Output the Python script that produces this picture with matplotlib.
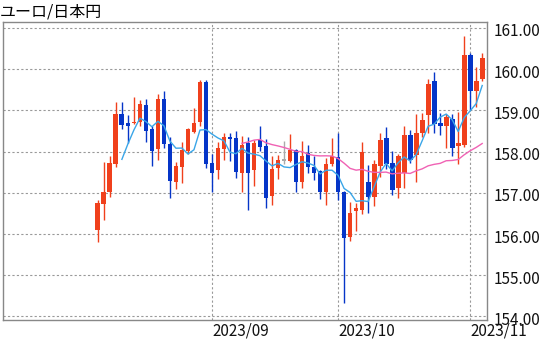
import numpy as np
import pandas as pd
import matplotlib
matplotlib.use("Agg")
import matplotlib.pyplot as plt
import matplotlib.transforms as mtransforms

plt.rcParams['font.family'] = ['Noto Sans CJK JP', 'DejaVu Sans']

# EUR/JPY daily candles, 2023-08-07 .. 2023-11-03
dates = pd.bdate_range("2023-08-07", periods=65)
opens = [156.10, 156.73, 157.01, 157.70, 158.91, 158.70, 158.68, 158.71, 159.13, 158.55,
         158.06, 159.27, 158.18, 157.25, 157.63, 158.02, 158.48, 158.71, 159.69, 157.73,
         157.55, 158.06, 158.36, 158.33, 157.49, 158.20, 157.55, 158.28, 158.14, 156.91,
         157.60, 157.78, 157.78, 158.04, 157.26, 157.96, 157.63, 157.52, 157.03, 157.70,
         157.86, 157.03, 155.92, 156.55, 156.58, 157.25, 156.89, 157.66, 158.32, 157.71,
         157.12, 157.48, 158.41, 157.92, 158.46, 158.88, 159.72, 158.68, 158.63, 158.78,
         158.14, 158.16, 160.34, 159.47, 159.77]
highs = [156.82, 157.74, 157.88, 159.19, 159.21, 158.88, 159.33, 159.25, 159.27, 158.62,
         159.39, 159.47, 158.34, 157.74, 158.24, 158.58, 159.05, 159.73, 159.73, 157.94,
         158.24, 158.46, 158.45, 158.50, 158.38, 158.36, 158.28, 158.63, 158.30, 157.90,
         157.92, 158.26, 158.42, 158.06, 158.26, 158.16, 157.90, 157.55, 157.84, 158.33,
         158.46, 157.05, 156.77, 156.74, 158.24, 157.68, 157.79, 158.46, 158.60, 158.02,
         157.95, 158.61, 158.53, 158.91, 158.93, 159.77, 159.92, 158.93, 158.91, 158.91,
         158.95, 160.81, 160.40, 160.04, 160.38]
lows = [155.81, 156.35, 156.90, 157.63, 158.55, 158.20, 158.67, 158.63, 158.24, 157.66,
        157.79, 158.08, 156.87, 157.09, 157.23, 157.95, 158.44, 158.63, 157.61, 157.03,
        157.33, 157.79, 157.76, 157.35, 157.01, 156.58, 157.17, 158.02, 156.63, 156.71,
        157.33, 157.70, 157.74, 157.03, 157.11, 157.47, 157.31, 156.86, 156.70, 157.66,
        156.82, 154.32, 155.82, 156.08, 156.48, 156.50, 156.69, 157.37, 157.58, 156.95,
        156.87, 157.12, 157.71, 157.27, 158.34, 158.45, 158.45, 158.40, 158.08, 157.88,
        157.70, 158.12, 159.01, 159.07, 159.72]
closes = [156.74, 157.03, 157.72, 158.91, 158.65, 158.61, 158.72, 159.15, 158.50, 158.02,
          159.27, 158.18, 157.29, 157.64, 158.04, 158.55, 158.69, 159.68, 157.70, 157.49,
          158.08, 158.34, 158.31, 157.51, 158.16, 157.49, 158.21, 158.12, 156.87, 157.57,
          157.79, 157.78, 158.04, 157.25, 157.90, 157.63, 157.49, 157.01, 157.70, 157.90,
          157.01, 155.90, 156.52, 156.63, 157.98, 156.90, 157.70, 158.28, 157.70, 157.07,
          157.88, 158.41, 157.79, 158.46, 158.76, 159.64, 158.67, 158.63, 158.84, 158.08,
          158.21, 160.34, 159.46, 159.72, 160.27]
y_ticks = [154, 155, 156, 157, 158, 159, 160, 161]

df = pd.DataFrame({"open": opens, "high": highs, "low": lows, "close": closes}, index=dates)
ma_short = df["close"].rolling(5).mean()
ma_long = df["close"].rolling(25).mean()

x = np.arange(len(df))
up_col, down_col, flat_col = "#f0401c", "#0535c8", "#aaaaaa"
colors = [up_col if c > o else down_col if c < o else flat_col
          for o, c in zip(df["open"], df["close"])]

fig = plt.figure(figsize=(5.6, 3.44), dpi=100)
ax = fig.add_axes([3 / 560, 1 - 320 / 344, 484 / 560, 298 / 344])

# wicks and bodies
ax.vlines(x, df["low"], df["high"], colors=colors, linewidth=1.0, zorder=2)
body_low = np.minimum(df["open"], df["close"])
body_h = np.maximum(np.abs(df["close"] - df["open"]), 0.03)
ax.bar(x, body_h, bottom=body_low, width=0.8, color=colors, linewidth=0, zorder=3)

ax.plot(x, ma_short, color="#3aa6e8", linewidth=1.0, zorder=4)
ax.plot(x, ma_long, color="#f062b4", linewidth=1.0, zorder=4)

# month gridlines at first trading day of each month
month_first = [i for i in range(1, len(dates)) if dates[i].month != dates[i - 1].month]
ax.set_xticks(month_first)
ax.set_xticklabels([dates[i].strftime("%Y/%m") for i in month_first], ha="left")
ax.set_xlim(-15.8, 64.8)

ax.set_ylim(153.915, 161.14)
ax.set_yticks(y_ticks)
ax.set_yticklabels([f"{v:.2f}" for v in y_ticks])
ax.yaxis.tick_right()

ax.grid(True, color="#999999", linestyle=(0, (2, 2)), linewidth=0.8, zorder=0)
ax.tick_params(length=0, labelsize=11, colors="#111111")
ax.tick_params(axis="y", pad=5)
ax.tick_params(axis="x", pad=2)
for s in ax.spines.values():
    s.set_color("#888888")
    s.set_linewidth(1.0)

# y labels sit a little below their gridlines
shift = mtransforms.ScaledTranslation(0, -2 / 100, fig.dpi_scale_trans)
for lab in ax.get_yticklabels():
    lab.set_transform(lab.get_transform() + shift)

fig.text(0.0, 1 - 12 / 344, "ユーロ/日本円", fontsize=11.5, va="center", ha="left")

fig.savefig("out.png", dpi=100)
